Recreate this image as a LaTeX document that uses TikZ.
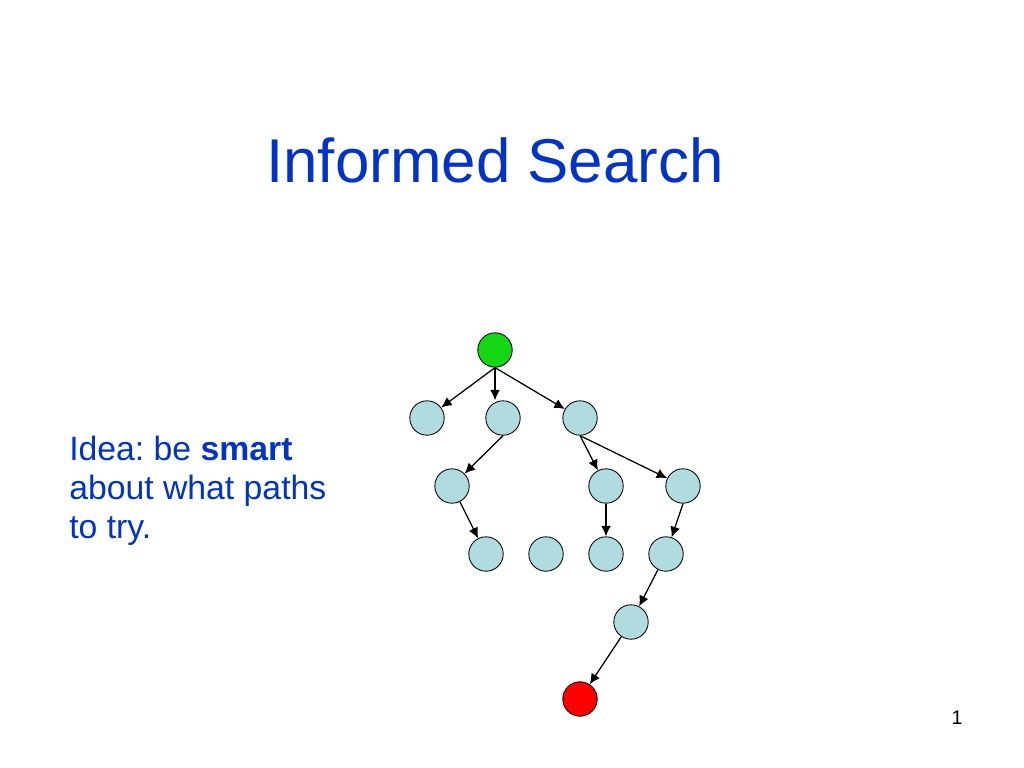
\documentclass[tikz,border=0pt]{standalone}
\usepackage{fontspec}
\setmainfont{Liberation Sans}
\usetikzlibrary{arrows.meta}
\definecolor{slideblue}{RGB}{0,51,204}
\definecolor{statefill}{RGB}{176,220,224}
\definecolor{startfill}{RGB}{20,215,20}
\definecolor{goalfill}{RGB}{255,0,0}
\frenchspacing

\begin{document}
\begin{tikzpicture}[x=0.025cm,y=-0.025cm,
  state/.style={circle,draw,line width=0.6pt,fill=statefill,minimum size=0.86cm,inner sep=0pt},
  edge/.style={-{Latex[length=7.5pt,width=7pt]},line width=0.9pt}]
 \useasboundingbox[fill=white] (0,0) rectangle (1024,768);
 \node[anchor=base,text=slideblue,font=\fontsize{44}{53}\selectfont] (title) at (495,183) {Informed Search}; %タイトル
 \node[anchor=base west,text=slideblue,align=left,inner sep=0pt,font=\fontsize{24}{27.4}\selectfont] (idea) at (69,538)
   {Idea: be \textbf{smart}\\about what paths\\to try.}; %説明
 \node[font=\fontsize{14}{16}\selectfont] (pagenum) at (957,718) {1}; %ページ番号
 % 木
 \node[state,fill=startfill] (start) at (495,350) {};
 \node[state] (a1) at (427,418) {};
 \node[state] (a2) at (503,418) {};
 \node[state] (a3) at (580,418) {};
 \node[state] (b1) at (452,486) {};
 \node[state] (b2) at (606,486) {};
 \node[state] (b3) at (683,486) {};
 \node[state] (c1) at (486,554) {};
 \node[state] (c2) at (546,554) {};
 \node[state] (c3) at (606,554) {};
 \node[state] (c4) at (666,554) {};
 \node[state] (d1) at (631,622) {};
 \node[state,fill=goalfill] (goal) at (580,699) {};
 \draw[edge] (start.south)--(a1);
 \draw[edge] (start.south)--(start.south |- a2.north);
 \draw[edge] (start.south)--(a3);
 \draw[edge] (a2.south)--(b1);
 \draw[edge] (a3.south)--(b2);
 \draw[edge] (a3.south)--(b3);
 \draw[edge] (b1)--(c1);
 \draw[edge] (b2.south)--(c3);
 \draw[edge] (b3.south)--(c4);
 \draw[edge] (c4)--(d1);
 \draw[edge] (d1)--(goal);
\end{tikzpicture}
\end{document}
